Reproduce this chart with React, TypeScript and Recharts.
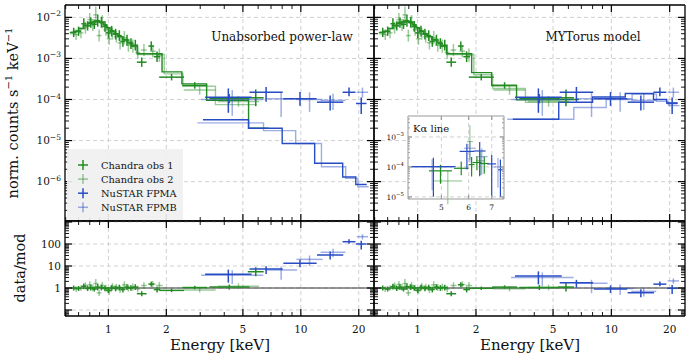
import React from 'react';
import {
  ComposedChart, Line, Scatter, ErrorBar,
  XAxis, YAxis, CartesianGrid, ReferenceLine
} from 'recharts';

const W = 691;
const H = 361;
const FONT = '"DejaVu Serif", serif';
const GREEN = 'rgb(34,139,34)';
const GREEN_L = 'rgba(34,139,34,0.45)';
const BLUE = 'rgb(40,76,196)';
const BLUE_L = 'rgba(40,76,196,0.45)';

// Chandra obs 1 (energy keV, bin half-width factor, counts, error factor, data/model)
const obs1Energy = [0.66, 0.70, 0.745, 0.78, 0.81, 0.845, 0.88, 0.92, 0.96, 1.0, 1.04, 1.09, 1.14, 1.19, 1.25, 1.31, 1.38, 1.49, 1.67, 1.79, 2.13, 2.81, 4.25, 5.83];
const obs1BinF = [1.03, 1.03, 1.03, 1.03, 1.03, 1.03, 1.03, 1.03, 1.03, 1.03, 1.03, 1.03, 1.03, 1.03, 1.03, 1.03, 1.035, 1.06, 1.035, 1.04, 1.16, 1.16, 1.27, 1.1];
const obs1Counts = [4.3e-3, 4.6e-3, 7.0e-3, 6.2e-3, 7.5e-3, 6.8e-3, 8.3e-3, 7.6e-3, 6.0e-3, 4.2e-3, 4.6e-3, 3.9e-3, 3.6e-3, 2.6e-3, 2.8e-3, 2.3e-3, 2.1e-3, 8.1e-4, 2.0e-3, 1.1e-3, 3.5e-4, 2.2e-4, 1.05e-4, 1.1e-4];
const obs1ErrF = [1.3, 1.3, 1.35, 1.3, 1.35, 1.3, 1.4, 1.35, 1.35, 1.35, 1.35, 1.35, 1.35, 1.35, 1.35, 1.35, 1.35, 1.3, 1.3, 1.35, 1.2, 1.2, 1.3, 1.6];
const obs1RatioPL = [1.0, 0.95, 1.2, 0.95, 1.05, 0.9, 1.1, 1.05, 0.95, 0.8, 1.0, 0.95, 1.05, 0.85, 1.1, 1.0, 1.1, 0.55, 1.5, 0.85, 0.78, 1.05, 1.1, 5.5];
const obs1RatioMYT = [1.0, 0.9, 1.15, 0.95, 1.1, 0.9, 1.15, 1.1, 1.0, 0.8, 1.05, 0.95, 1.05, 0.85, 1.1, 1.0, 1.05, 0.55, 1.4, 0.85, 0.97, 1.1, 1.05, 1.1];

// Chandra obs 2
const obs2Energy = [0.68, 0.72, 0.76, 0.80, 0.83, 0.86, 0.895, 0.93, 0.97, 1.01, 1.05, 1.10, 1.15, 1.21, 1.27, 1.34, 1.42, 1.53, 1.70, 1.84, 2.98, 4.74];
const obs2BinF = [1.03, 1.03, 1.03, 1.03, 1.03, 1.03, 1.03, 1.03, 1.03, 1.03, 1.03, 1.03, 1.03, 1.03, 1.03, 1.03, 1.03, 1.035, 1.035, 1.04, 1.21, 1.28];
const obs2Counts = [3.8e-3, 4.2e-3, 5.6e-3, 8.8e-3, 6.5e-3, 1.15e-2, 3.6e-3, 7.8e-3, 5.0e-3, 3.0e-3, 4.0e-3, 3.4e-3, 2.4e-3, 3.2e-3, 2.1e-3, 2.0e-3, 1.4e-3, 1.6e-3, 1.5e-3, 1.2e-3, 1.7e-4, 9.0e-5];
const obs2ErrF = [1.35, 1.35, 1.4, 1.45, 1.4, 1.6, 1.4, 1.45, 1.4, 1.4, 1.4, 1.4, 1.45, 1.45, 1.45, 1.45, 1.4, 1.4, 1.4, 1.45, 1.3, 1.35];
const obs2RatioPL = [0.9, 1.0, 1.3, 1.4, 1.0, 1.6, 0.6, 1.3, 1.0, 0.7, 1.2, 1.1, 0.85, 1.4, 1.0, 1.1, 0.9, 1.3, 1.5, 1.3, 0.81, 1.2];
const obs2RatioMYT = [0.9, 1.0, 1.3, 1.45, 1.05, 1.6, 0.6, 1.3, 1.0, 0.75, 1.2, 1.1, 0.85, 1.4, 1.05, 1.1, 0.9, 1.3, 1.45, 1.3, 0.92, 1.05];

// NuSTAR FPMA
const fpmaEnergy = [4.2, 6.6, 9.9, 14.2, 17.8, 20.6];
const fpmaBinF = [1.32, 1.22, 1.22, 1.17, 1.08, 1.065];
const fpmaCounts = [1.14e-4, 1.5e-4, 1.05e-4, 8.6e-5, 1.5e-4, 8.0e-5];
const fpmaErrLo = [2.4, 1.7, 1.5, 1.6, 1.25, 1.8];
const fpmaErrHi = [1.63, 1.35, 1.45, 1.45, 1.3, 1.4];
const fpmaRatioPL = [4.2, 7.3, 13.2, 31.6, 127, 100];
const fpmaRatioMYT = [3.5, 1.74, 0.9, 0.61, 1.5, 0.97];

// NuSTAR FPMB
const fpmbEnergy = [4.4, 7.9, 11.1, 14.7, 20.9];
const fpmbBinF = [1.45, 1.21, 1.17, 1.16, 1.07];
const fpmbCounts = [1.0e-4, 1.05e-4, 1.0e-4, 9.5e-5, 1.5e-4];
const fpmbErrLo = [2.5, 2.8, 2.0, 1.7, 1.35];
const fpmbErrHi = [1.7, 1.45, 1.5, 1.45, 1.3];
const fpmbRatioPL = [3.8, 6.6, 20, 42, 215];
const fpmbRatioMYT = [3.0, 1.63, 0.95, 0.7, 2.1];

// folded models (bin edges, level per bin)
const obs1ModelEdges = [0.63, 0.66, 0.70, 0.74, 0.78, 0.82, 0.86, 0.90, 0.94, 0.98, 1.02, 1.07, 1.12, 1.18, 1.25, 1.32, 1.41, 1.90, 2.41, 3.24, 5.35, 6.8];
const obs1ModelPL = [4.3e-3, 4.6e-3, 5.4e-3, 6.4e-3, 7.2e-3, 7.7e-3, 7.9e-3, 7.5e-3, 6.6e-3, 5.6e-3, 4.7e-3, 4.0e-3, 3.4e-3, 2.9e-3, 2.5e-3, 2.0e-3, 1.3e-3, 4.7e-4, 2.4e-4, 9.5e-5, 2.0e-5];
const obs1ModelMYT = [4.3e-3, 4.6e-3, 5.4e-3, 6.4e-3, 7.2e-3, 7.7e-3, 7.9e-3, 7.5e-3, 6.6e-3, 5.6e-3, 4.7e-3, 4.0e-3, 3.4e-3, 2.9e-3, 2.5e-3, 2.0e-3, 1.3e-3, 4.5e-4, 2.2e-4, 9.8e-5, 1.0e-4];
const obs2ModelEdges = [0.63, 0.67, 0.71, 0.75, 0.79, 0.83, 0.87, 0.91, 0.95, 0.99, 1.03, 1.08, 1.13, 1.19, 1.26, 1.33, 1.42, 1.95, 2.44, 3.6, 5.9];
const obs2ModelPL = [4.0e-3, 4.4e-3, 5.2e-3, 6.2e-3, 7.0e-3, 7.5e-3, 7.7e-3, 7.3e-3, 6.4e-3, 5.4e-3, 4.6e-3, 3.9e-3, 3.3e-3, 2.8e-3, 2.4e-3, 1.95e-3, 1.25e-3, 4.2e-4, 2.1e-4, 7.5e-5];
const obs2ModelMYT = [4.0e-3, 4.4e-3, 5.2e-3, 6.2e-3, 7.0e-3, 7.5e-3, 7.7e-3, 7.3e-3, 6.4e-3, 5.4e-3, 4.6e-3, 3.9e-3, 3.3e-3, 2.8e-3, 2.4e-3, 1.95e-3, 1.25e-3, 4.0e-4, 1.85e-4, 8.5e-5];
const fpmaModelEdges = [3.1, 5.35, 8.0, 11.8, 16.5, 19.3, 22.0];
const fpmaModelPL = [3.2e-5, 2.0e-5, 8.5e-6, 2.8e-6, 1.3e-6, 8.5e-7];
const fpmaModelMYT = [3.3e-5, 8.6e-5, 1.15e-4, 1.4e-4, 1.0e-4, 8.2e-5];
const fpmbModelEdges = [2.9, 6.4, 9.4, 12.8, 17.1, 19.8, 22.5];
const fpmbModelPL = [2.7e-5, 1.75e-5, 8.5e-6, 2.3e-6, 1.2e-6, 7.5e-7];
const fpmbModelMYT = [3.3e-5, 6.4e-5, 1.05e-4, 1.35e-4, 9.0e-5, 7.1e-5];

// K-alpha inset
const insAEnergy = [4.74, 5.93, 6.46, 7.0, 7.42];
const insABinF = [1.16, 1.05, 1.04, 1.03, 1.015];
const insACounts = [1.02e-4, 3.3e-4, 3.4e-4, 1.26e-4, 8.0e-5];
const insAErrLo = [10, 4, 7, 12, 8];
const insAErrHi = [2, 1.8, 2, 2, 2.2];
const insBEnergy = [4.7, 6.05, 6.55, 7.3];
const insBBinF = [1.15, 1.04, 1.04, 1.03];
const insBCounts = [1.0e-4, 4.2e-4, 2.2e-4, 1.0e-4];
const insBErrLo = [6, 3, 4, 5];
const insBErrHi = [1.8, 1.7, 1.9, 2];
const ins1Energy = [4.97, 5.71, 6.12, 6.34, 6.66];
const ins1BinF = [1.08, 1.05, 1.02, 1.03, 1.03];
const ins1Counts = [7.4e-5, 9.0e-5, 1.2e-4, 1.4e-4, 1.3e-4];
const ins1ErrLo = [2.7, 1.7, 2.5, 1.8, 2.2];
const ins1ErrHi = [1.6, 1.7, 1.8, 1.6, 1.7];
const ins2Energy = [5.22, 6.05, 6.5];
const ins2BinF = [1.1, 1.02, 1.03];
const ins2Counts = [3.4e-5, 7.0e-4, 1.6e-4];
const ins2ErrLo = [6, 4, 3];
const ins2ErrHi = [2.2, 3.5, 2];

// axes
const xMajor = [1, 2, 5, 10, 20];
const xMinor = [0.6, 0.7, 0.8, 0.9, 3, 4, 6, 7, 8, 9];
const fluxMajor = [1e-6, 1e-5, 1e-4, 1e-3, 1e-2];
const ratioMajor = [0.1, 1, 10, 100, 1000];
const ratioLabels = [1, 10, 100];
const insetXMajor = [5, 6, 7];
const insetYMajor = [1e-5, 1e-4, 1e-3];

type Pt = { e: number; v: number; ex: number[]; ey: number[] };

function crossData(energy: number[], binF: number[], vals: number[], errLo: number[], errHi: number[] = errLo): Pt[] {
  return energy.map((e, i) => ({
    e,
    v: vals[i],
    ex: [e - e / binF[i], e * binF[i] - e],
    ey: [vals[i] - vals[i] / errLo[i], vals[i] * errHi[i] - vals[i]],
  }));
}

function stepData(edges: number[], levels: number[]) {
  return edges.map((e, i) => ({ e, v: levels[Math.min(i, levels.length - 1)] }));
}

function logMinor(lo: number, hi: number) {
  const out: number[] = [];
  for (let d = Math.floor(Math.log10(lo)); d <= Math.ceil(Math.log10(hi)); d++) {
    for (let m = 2; m <= 9; m++) {
      const t = m * Math.pow(10, d);
      if (t > lo && t < hi) out.push(t);
    }
  }
  return out;
}

const near = (arr: number[], v: number) => arr.some(m => Math.abs(m - v) <= m * 1e-6);

type Box = { x: number; y: number; w: number; h: number };
type Cfg = {
  xDomain: number[]; yDomain: number[];
  xMajor: number[]; xMinor: number[]; yMajor: number[]; yMinor: number[];
  xGrid: number[]; yGrid: number[];
  xLabel: ((v: number) => string | null) | null;
  yLabel: ((v: number) => React.ReactNode | null) | null;
  frame: string; frameW: number; tick: number[]; fs: number; xGap: number;
};

function xTick(cfg: Cfg, side: 'b' | 't') {
  return (p: any) => {
    const v = Number(p.payload.value);
    const maj = near(cfg.xMajor, v);
    const len = maj ? cfg.tick[0] : cfg.tick[1];
    const dir = side === 'b' ? -1 : 1;
    const lab = side === 'b' && maj && cfg.xLabel ? cfg.xLabel(v) : null;
    return (
      <g>
        <line x1={p.x} x2={p.x} y1={p.y} y2={p.y + dir * len} stroke={cfg.frame} strokeWidth={maj ? 1.2 : 0.9} />
        {lab !== null && (
          <text x={p.x} y={p.y + cfg.fs + cfg.xGap} textAnchor="middle" fontSize={cfg.fs} fontFamily={FONT} fill="#111">{lab}</text>
        )}
      </g>
    );
  };
}

function yTick(cfg: Cfg, side: 'l' | 'r') {
  return (p: any) => {
    const v = Number(p.payload.value);
    const maj = near(cfg.yMajor, v);
    const len = maj ? cfg.tick[0] : cfg.tick[1];
    const dir = side === 'l' ? 1 : -1;
    const lab = side === 'l' && maj && cfg.yLabel ? cfg.yLabel(v) : null;
    return (
      <g>
        <line x1={p.x} x2={p.x + dir * len} y1={p.y} y2={p.y} stroke={cfg.frame} strokeWidth={maj ? 1.2 : 0.9} />
        {lab !== null && (
          <text x={p.x - 4} y={p.y + cfg.fs * 0.36} textAnchor="end" fontSize={cfg.fs} fontFamily={FONT} fill="#111">{lab}</text>
        )}
      </g>
    );
  };
}

function powLabel(fs: number) {
  return (v: number) => (
    <>
      10<tspan dy={-fs * 0.45} fontSize={fs * 0.72}>{'\u2212' + Math.round(-Math.log10(v))}</tspan>
    </>
  );
}

function panel(key: string, box: Box, cfg: Cfg, series: React.ReactNode[]) {
  // every axis takes 1px, so the margins are one pixel short on each side
  const m = { left: box.x - 1, top: box.y - 1, right: W - box.x - box.w - 1, bottom: H - box.y - box.h - 1 };
  const ax = { stroke: cfg.frame, strokeWidth: cfg.frameW };
  const xTicks = [...cfg.xMinor, ...cfg.xMajor].sort((a, b) => a - b);
  const yTicks = [...cfg.yMinor, ...cfg.yMajor].sort((a, b) => a - b);
  return (
    <div key={key} style={{ position: 'absolute', left: 0, top: 0 }}>
      <ComposedChart width={W} height={H} margin={m}>
        <CartesianGrid stroke="#d0d0d0" strokeDasharray="4 3" verticalValues={cfg.xGrid} horizontalValues={cfg.yGrid} />
        {series}
        <XAxis xAxisId={0} dataKey="e" type="number" scale="log" domain={cfg.xDomain} allowDataOverflow ticks={xTicks} interval={0} height={1} tickSize={0} tickMargin={0} tickLine={false} axisLine={ax} tick={xTick(cfg, 'b')} />
        <XAxis xAxisId="t" orientation="top" dataKey="e" type="number" scale="log" domain={cfg.xDomain} allowDataOverflow ticks={xTicks} interval={0} height={1} tickSize={0} tickMargin={0} tickLine={false} axisLine={ax} tick={xTick(cfg, 't')} />
        <YAxis yAxisId={0} dataKey="v" type="number" scale="log" domain={cfg.yDomain} allowDataOverflow ticks={yTicks} interval={0} width={1} tickSize={0} tickMargin={0} tickLine={false} axisLine={ax} tick={yTick(cfg, 'l')} />
        <YAxis yAxisId="r" orientation="right" dataKey="v" type="number" scale="log" domain={cfg.yDomain} allowDataOverflow ticks={yTicks} interval={0} width={1} tickSize={0} tickMargin={0} tickLine={false} axisLine={ax} tick={yTick(cfg, 'r')} />
      </ComposedChart>
    </div>
  );
}

function crosses(key: string, data: Pt[], color: string, sw = 1.5) {
  return (
    <Scatter key={key} data={data} fill={color} shape={() => <g />} isAnimationActive={false}>
      <ErrorBar dataKey="ex" direction="x" width={0} stroke={color} strokeWidth={sw} isAnimationActive={false} />
      <ErrorBar dataKey="ey" direction="y" width={0} stroke={color} strokeWidth={sw} isAnimationActive={false} />
    </Scatter>
  );
}

function model(key: string, data: { e: number; v: number }[], color: string, sw = 1.4) {
  return (
    <Line key={key} data={data} dataKey="v" type="stepAfter" stroke={color} strokeWidth={sw} dot={false} activeDot={false} isAnimationActive={false} />
  );
}

const TL: Box = { x: 65, y: 5, w: 309, h: 216 };
const TR: Box = { x: 374, y: 5, w: 311, h: 216 };
const BL: Box = { x: 65, y: 221, w: 309, h: 95 };
const BR: Box = { x: 374, y: 221, w: 311, h: 95 };
const INSET: Box = { x: 408, y: 116, w: 96, h: 83 };

const X_DOMAIN = [0.595, 24];
const FLUX_DOMAIN = [1.1e-7, 2e-2];
const RATIO_DOMAIN = [0.0534, 1110];

const base = {
  xDomain: X_DOMAIN, xMajor, xMinor, xGrid: xMajor,
  frame: '#000', frameW: 1.3, tick: [7, 4], fs: 10.5, xGap: 6.5,
};
const fluxCfg: Cfg = {
  ...base, yDomain: FLUX_DOMAIN, yMajor: fluxMajor, yMinor: logMinor(FLUX_DOMAIN[0], FLUX_DOMAIN[1]),
  yGrid: fluxMajor, xLabel: null, yLabel: powLabel(10.5),
};
const ratioCfg: Cfg = {
  ...base, yDomain: RATIO_DOMAIN, yMajor: ratioMajor, yMinor: logMinor(RATIO_DOMAIN[0], RATIO_DOMAIN[1]),
  yGrid: ratioMajor, xLabel: (v) => String(v), yLabel: (v) => (near(ratioLabels, v) ? String(v) : null),
};
const insetCfg: Cfg = {
  xDomain: [4, 7.6], yDomain: [8.5e-6, 5e-3], xMajor: insetXMajor, xMinor: [], yMajor: insetYMajor,
  yMinor: logMinor(8.5e-6, 5e-3), xGrid: insetXMajor, yGrid: insetYMajor,
  xLabel: (v) => String(v), yLabel: powLabel(7.5),
  frame: '#999', frameW: 1, tick: [4, 2], fs: 7.5, xGap: 3.5,
};

const obs1Flux = crossData(obs1Energy, obs1BinF, obs1Counts, obs1ErrF);
const obs2Flux = crossData(obs2Energy, obs2BinF, obs2Counts, obs2ErrF);
const fpmaFlux = crossData(fpmaEnergy, fpmaBinF, fpmaCounts, fpmaErrLo, fpmaErrHi);
const fpmbFlux = crossData(fpmbEnergy, fpmbBinF, fpmbCounts, fpmbErrLo, fpmbErrHi);

function fluxSeries(tag: string, o1: number[], o2: number[], a: number[], b: number[]) {
  return [
    model(tag + 'm2', stepData(obs2ModelEdges, o2), GREEN_L),
    model(tag + 'm1', stepData(obs1ModelEdges, o1), GREEN),
    model(tag + 'mb', stepData(fpmbModelEdges, b), BLUE_L),
    model(tag + 'ma', stepData(fpmaModelEdges, a), BLUE),
    crosses(tag + 'd2', obs2Flux, GREEN_L),
    crosses(tag + 'd1', obs1Flux, GREEN),
    crosses(tag + 'db', fpmbFlux, BLUE_L),
    crosses(tag + 'da', fpmaFlux, BLUE),
  ];
}

function ratioSeries(tag: string, o1: number[], o2: number[], a: number[], b: number[]) {
  return [
    <ReferenceLine key={tag + 'one'} y={1} stroke="#333" strokeWidth={1} />,
    crosses(tag + 'd2', crossData(obs2Energy, obs2BinF, o2, obs2ErrF), GREEN_L),
    crosses(tag + 'd1', crossData(obs1Energy, obs1BinF, o1, obs1ErrF), GREEN),
    crosses(tag + 'db', crossData(fpmbEnergy, fpmbBinF, b, fpmbErrLo, fpmbErrHi), BLUE_L),
    crosses(tag + 'da', crossData(fpmaEnergy, fpmaBinF, a, fpmaErrLo, fpmaErrHi), BLUE),
  ];
}

const legendItems = [
  { label: 'Chandra obs 1', color: GREEN },
  { label: 'Chandra obs 2', color: GREEN_L },
  { label: 'NuSTAR FPMA', color: BLUE },
  { label: 'NuSTAR FPMB', color: BLUE_L },
];

export default function App() {
  return (
    <div style={{ position: 'absolute', left: 0, top: 0, width: W, height: H, background: '#fff', overflow: 'hidden', fontFamily: FONT }}>
      {panel('tl', TL, fluxCfg, fluxSeries('tl', obs1ModelPL, obs2ModelPL, fpmaModelPL, fpmbModelPL))}
      {panel('tr', TR, { ...fluxCfg, yLabel: null }, fluxSeries('tr', obs1ModelMYT, obs2ModelMYT, fpmaModelMYT, fpmbModelMYT))}
      {panel('bl', BL, ratioCfg, ratioSeries('bl', obs1RatioPL, obs2RatioPL, fpmaRatioPL, fpmbRatioPL))}
      {panel('br', BR, { ...ratioCfg, yLabel: null }, ratioSeries('br', obs1RatioMYT, obs2RatioMYT, fpmaRatioMYT, fpmbRatioMYT))}

      <svg width={W} height={H} style={{ position: 'absolute', left: 0, top: 0, pointerEvents: 'none' }}>
        <rect x={67} y={149} width={116} height={71} fill="#f0f0f0" fillOpacity={0.92} />
        {legendItems.map((it, i) => {
          const cy = 165 + i * 14.1;
          return (
            <g key={it.label}>
              <line x1={78} x2={88} y1={cy} y2={cy} stroke={it.color} strokeWidth={1.5} />
              <line x1={83} x2={83} y1={cy - 5} y2={cy + 5} stroke={it.color} strokeWidth={1.5} />
              <text x={101} y={cy + 3.5} fontSize={9.8} fontFamily={FONT} fill="#111">{it.label}</text>
            </g>
          );
        })}
      </svg>

      <div style={{ position: 'absolute', left: INSET.x, top: INSET.y, width: INSET.w, height: INSET.h, background: '#fff' }} />
      {panel('inset', INSET, insetCfg, [
        crosses('i2', crossData(ins2Energy, ins2BinF, ins2Counts, ins2ErrLo, ins2ErrHi), GREEN_L, 1.2),
        crosses('ib', crossData(insBEnergy, insBBinF, insBCounts, insBErrLo, insBErrHi), BLUE_L, 1.2),
        crosses('i1', crossData(ins1Energy, ins1BinF, ins1Counts, ins1ErrLo, ins1ErrHi), GREEN, 1.2),
        crosses('ia', crossData(insAEnergy, insABinF, insACounts, insAErrLo, insAErrHi), BLUE, 1.2),
      ])}

      <svg width={W} height={H} style={{ position: 'absolute', left: 0, top: 0, pointerEvents: 'none' }} fontFamily={FONT}>
        <text transform="translate(18,113) rotate(-90)" textAnchor="middle" fontSize={14.5} fill="#111">
          norm. counts s<tspan dy={-6} fontSize={10}>{'\u22121'}</tspan><tspan dy={6}> keV</tspan><tspan dy={-6} fontSize={10}>{'\u22121'}</tspan>
        </text>
        <text transform="translate(25,268) rotate(-90)" textAnchor="middle" fontSize={14.5} fill="#111">data/mod</text>
        <text x={220} y={350} textAnchor="middle" fontSize={15} fill="#111">Energy [keV]</text>
        <text x={530} y={350} textAnchor="middle" fontSize={15} fill="#111">Energy [keV]</text>
        <text x={282} y={41} textAnchor="middle" fontSize={12} fill="#111">Unabsorbed power-law</text>
        <text x={593} y={41} textAnchor="middle" fontSize={12} fill="#111">MYTorus model</text>
        <text x={413} y={132} fontSize={10} fill="#111">K{'\u03b1'} line</text>
      </svg>
    </div>
  );
}
